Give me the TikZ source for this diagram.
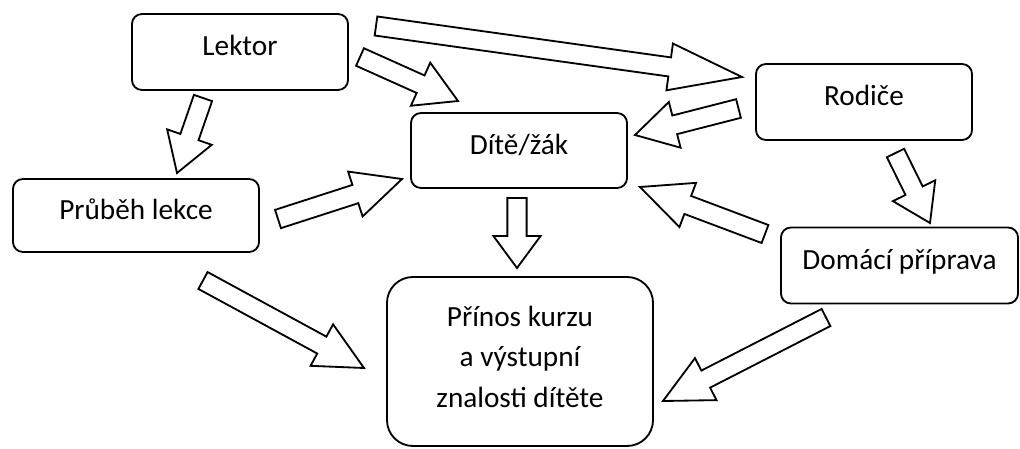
\documentclass[tikz,border=0pt]{standalone}
\usepackage{fontspec}
\setmainfont{Carlito}
\usetikzlibrary{calc}

% hollow block arrow: [head length]{tail}{tip}
\newcommand{\fatarrow}[3][1cm]{%
	\coordinate (fa-base) at ($(#3)!#1!(#2)$);
	\draw [fatline] ($(#2)!0.24cm!90:(#3)$) -- ($(fa-base)!0.24cm!90:(#3)$) -- ($(fa-base)!0.59cm!90:(#3)$) -- (#3)
		-- ($(fa-base)!0.59cm!-90:(#3)$) -- ($(fa-base)!0.24cm!-90:(#3)$) -- ($(#2)!0.24cm!-90:(#3)$) -- cycle;
}

\begin{document}
\begin{tikzpicture}[x=0.025cm, y=-0.025cm,
		box/.style={draw, line width=1.3pt, rounded corners=0.25cm, align=center,
			text height=0.6cm, text depth=0.41cm, font=\fontsize{20.8}{29}\selectfont},
		fatline/.style={draw, line width=1.3pt, line join=miter, fill=white}]
	\useasboundingbox (0, 0) rectangle (1020, 448);

	\node [box, minimum width=5.4cm, minimum height=1.9cm] (lektor) at (240, 52) {Lektor};
	\node [box, minimum width=5.4cm, minimum height=1.875cm] (zak) at (519, 150.5) {Dítě/žák};
	\node [box, minimum width=5.4cm, minimum height=1.9cm] (rodice) at (864, 102) {Rodiče};
	\node [box, minimum width=6.15cm, minimum height=1.825cm] (prubeh) at (136, 215.5) {Průběh lekce};
	\node [box, minimum width=5.925cm, minimum height=1.9cm] (priprava) at (899.5, 265.5) {Domácí příprava};
	\node [box, rounded corners=0.65cm, text height=2.72cm, minimum width=6.65cm, minimum height=4.225cm] (prinos) at (520, 361.5)
		{Přínos kurzu\\a výstupní\\znalosti dítěte};

	% arrow ends
	\coordinate (lk-ro-a) at (376, 26);     \coordinate (lk-ro-b) at (742, 77);
	\coordinate (lk-za-a) at (360, 57);     \coordinate (lk-za-b) at (458, 101);
	\coordinate (lk-pr-a) at (203, 98);     \coordinate (lk-pr-b) at (177, 173);
	\coordinate (ro-za-a) at (738.5, 108.5); \coordinate (ro-za-b) at (635, 135);
	\coordinate (ro-dp-a) at (895.5, 153);  \coordinate (ro-dp-b) at (930, 223);
	\coordinate (dp-za-a) at (765, 234);    \coordinate (dp-za-b) at (640, 187);
	\coordinate (dp-pk-a) at (826, 317.5);  \coordinate (dp-pk-b) at (663, 401);
	\coordinate (za-pk-a) at (517, 198);    \coordinate (za-pk-b) at (517, 268);
	\coordinate (pr-za-a) at (278, 219);    \coordinate (pr-za-b) at (402, 179);
	\coordinate (pr-pk-a) at (203, 280.5);  \coordinate (pr-pk-b) at (364, 368);

	\fatarrow[1.825cm]{lk-ro-a}{lk-ro-b}
	\fatarrow[1.025cm]{lk-za-a}{lk-za-b}
	\fatarrow[0.95cm]{lk-pr-a}{lk-pr-b}
	\fatarrow[1.025cm]{ro-za-a}{ro-za-b}
	\fatarrow[0.9cm]{ro-dp-a}{ro-dp-b}
	\fatarrow[1.275cm]{dp-za-a}{dp-za-b}
	\fatarrow[1.2cm]{dp-pk-a}{dp-pk-b}
	\fatarrow[0.8cm]{za-pk-a}{za-pk-b}
	\fatarrow[1.225cm]{pr-za-a}{pr-za-b}
	\fatarrow[1.2cm]{pr-pk-a}{pr-pk-b}
\end{tikzpicture}
\end{document}
